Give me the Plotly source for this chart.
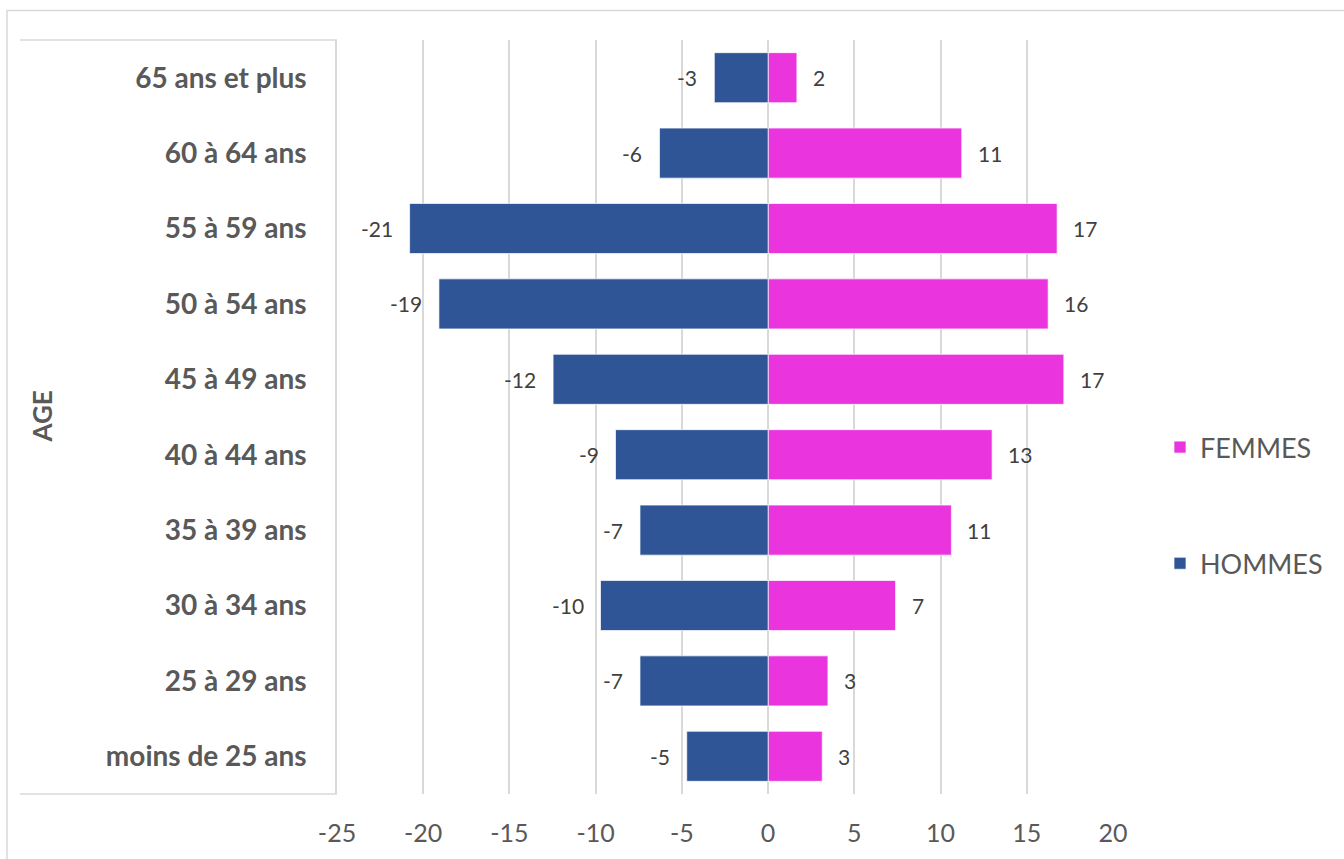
import plotly.graph_objects as go

categories = ["moins de 25 ans", "25 à 29 ans", "30 à 34 ans", "35 à 39 ans", "40 à 44 ans",
              "45 à 49 ans", "50 à 54 ans", "55 à 59 ans", "60 à 64 ans", "65 ans et plus"]
hommes = [-4.72, -7.43, -9.72, -7.43, -8.85, -12.47, -19.09, -20.79, -6.30, -3.12]
femmes = [3.14, 3.47, 7.39, 10.63, 12.99, 17.15, 16.24, 16.76, 11.23, 1.67]
x_ticks = [-25, -20, -15, -10, -5, 0, 5, 10, 15, 20]

BLUE = "#2F5597"
PINK = "#EA35DF"
GRID = "#D9D9D9"
TXT = "#595959"
LBL = "#404040"
FONT = "Lato"

# plot area pixels
L, R, T, B = 337, 1113, 40, 793
W, H = R - L, B - T
def px(x): return (x - L) / W
def py(y): return (B - y) / H

fig = go.Figure()
fig.add_trace(go.Bar(y=categories, x=femmes, orientation="h", name="FEMMES",
                     marker=dict(color=PINK, line=dict(color="rgba(255,255,255,0.7)", width=1)),
                     legend="legend", hoverinfo="skip"))
fig.add_trace(go.Bar(y=categories, x=hommes, orientation="h", name="HOMMES",
                     marker=dict(color=BLUE, line=dict(color="rgba(255,255,255,0.7)", width=1)),
                     legend="legend2", hoverinfo="skip"))

annotations = []
for c, v in zip(categories, hommes):
    annotations.append(dict(x=v, y=c, xref="x", yref="y", text=f"{round(v):d}", showarrow=False,
                            xanchor="right", xshift=-15, font=dict(family=FONT, size=21, color=LBL)))
for c, v in zip(categories, femmes):
    annotations.append(dict(x=v, y=c, xref="x", yref="y", text=f"{round(v):d}", showarrow=False,
                            xanchor="left", xshift=14, font=dict(family=FONT, size=21, color=LBL)))
annotations.append(dict(x=px(42), y=py(416), xref="paper", yref="paper", text="<b>AGE</b>",
                        textangle=-90, showarrow=False, xanchor="center", yanchor="middle",
                        font=dict(family=FONT, size=26, color=TXT)))

shapes = [
    dict(type="rect", xref="paper", yref="paper", x0=px(7), x1=px(1360), y0=py(10.5), y1=py(880),
         line=dict(color=GRID, width=1.5), fillcolor="rgba(0,0,0,0)", layer="below"),
    dict(type="line", xref="paper", yref="paper", x0=px(20), x1=0, y0=1, y1=1,
         line=dict(color=GRID, width=1.5)),
    dict(type="line", xref="paper", yref="paper", x0=px(20), x1=0, y0=0, y1=0,
         line=dict(color=GRID, width=1.5)),
]

fig.update_layout(
    width=1344, height=859,
    margin=dict(l=L, r=1344 - R, t=T, b=859 - B - 5),
    paper_bgcolor="white", plot_bgcolor="white",
    barmode="overlay", bargap=0.336,
    font=dict(family=FONT, color=TXT),
    xaxis=dict(range=[-25, 20], tickvals=x_ticks, ticktext=[str(t) for t in x_ticks],
               showgrid=True, gridcolor=GRID, gridwidth=1.5, zeroline=False, showline=False,
               ticks="outside", ticklen=17, tickcolor="rgba(0,0,0,0)",
               tickfont=dict(family=FONT, size=25, color=TXT), fixedrange=True),
    yaxis=dict(categoryorder="array", categoryarray=categories, showgrid=False, zeroline=False,
               showline=True, linecolor=GRID, linewidth=1.5,
               ticks="outside", ticklen=23, tickcolor="rgba(0,0,0,0)",
               tickfont=dict(family=FONT, size=28, color=TXT, weight="bold"), fixedrange=True),
    legend=dict(x=px(1160), y=py(447), xanchor="left", yanchor="middle",
                font=dict(family=FONT, size=27, color=TXT), bgcolor="rgba(0,0,0,0)"),
    legend2=dict(x=px(1160), y=py(563), xanchor="left", yanchor="middle",
                 font=dict(family=FONT, size=27, color=TXT), bgcolor="rgba(0,0,0,0)"),
    annotations=annotations,
    shapes=shapes,
    showlegend=True,
)

fig.write_html("out.html")
